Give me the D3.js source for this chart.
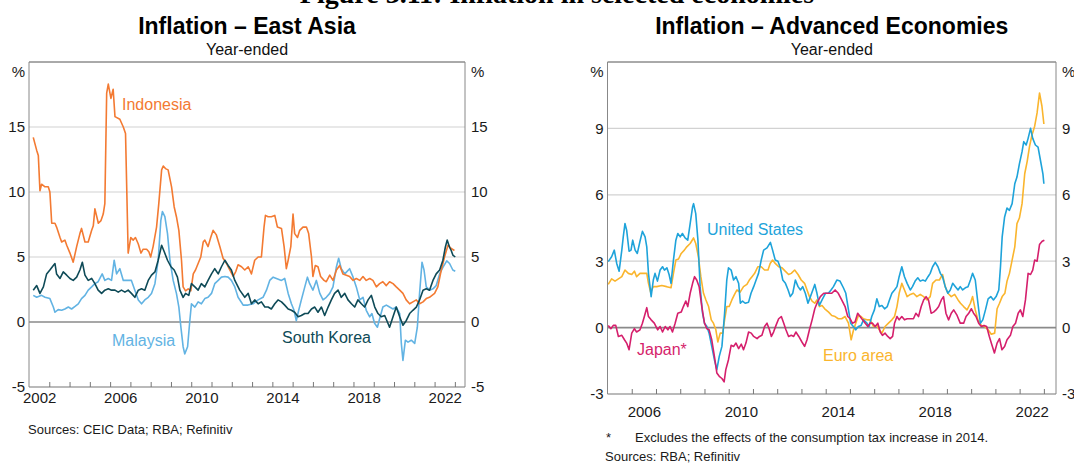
<!DOCTYPE html>
<html>
<head>
<meta charset="utf-8">
<script src="https://cdn.jsdelivr.net/npm/d3@7/dist/d3.min.js"></script>
<style>
  body { margin: 0; background: #fff; }
  svg { display: block; font-family: "Liberation Sans", Arial, sans-serif; }
</style>
</head>
<body>
<svg id="chart" width="1074" height="463"></svg>
<script>
// ---- data: [year, % year-ended] ----
const indonesia = [[2002.21,14.2],[2002.38,13.2],[2002.46,12.8],[2002.54,10.1],[2002.62,10.6],[2002.79,10.4],[2002.95,10.4],[2003.03,10.0],[2003.12,7.6],[2003.28,7.6],[2003.36,7.3],[2003.53,6.5],[2003.61,6.15],[2003.77,6.3],[2003.86,5.9],[2004.02,5.3],[2004.18,4.6],[2004.35,5.8],[2004.51,6.8],[2004.59,7.2],[2004.76,6.15],[2004.92,6.15],[2005.09,7.05],[2005.17,7.4],[2005.25,8.7],[2005.42,7.6],[2005.55,7.8],[2005.66,8.3],[2005.74,9.1],[2005.83,17.6],[2005.91,18.3],[2006.04,17.2],[2006.15,17.9],[2006.24,15.8],[2006.48,15.6],[2006.65,15.0],[2006.76,14.5],[2006.89,5.3],[2007.02,6.5],[2007.14,6.3],[2007.25,6.5],[2007.39,6.0],[2007.52,5.3],[2007.63,5.6],[2007.8,5.6],[2007.91,5.4],[2008.0,5.0],[2008.12,5.8],[2008.29,7.3],[2008.4,9.1],[2008.54,11.7],[2008.62,12.0],[2008.73,11.8],[2008.86,11.7],[2009.03,10.4],[2009.16,8.85],[2009.27,8.1],[2009.39,7.05],[2009.52,4.75],[2009.6,2.7],[2009.72,2.4],[2009.85,2.55],[2009.98,2.4],[2010.1,3.7],[2010.21,4.0],[2010.34,4.5],[2010.47,5.0],[2010.59,6.15],[2010.67,6.3],[2010.83,5.8],[2010.96,6.5],[2011.08,7.05],[2011.24,6.7],[2011.41,5.8],[2011.57,4.9],[2011.74,4.5],[2011.9,4.0],[2012.07,3.5],[2012.2,3.9],[2012.31,4.4],[2012.48,4.25],[2012.64,4.0],[2012.81,4.25],[2012.97,3.7],[2013.13,4.75],[2013.3,5.0],[2013.46,5.0],[2013.59,7.3],[2013.66,8.2],[2013.79,8.1],[2013.95,8.1],[2014.12,8.2],[2014.25,7.3],[2014.45,7.2],[2014.58,5.8],[2014.69,4.1],[2014.78,4.75],[2014.91,5.8],[2015.02,8.3],[2015.1,6.8],[2015.24,6.5],[2015.35,7.05],[2015.51,7.3],[2015.68,7.3],[2015.79,6.8],[2015.93,5.0],[2016.0,3.5],[2016.12,4.35],[2016.25,4.25],[2016.38,3.5],[2016.55,3.2],[2016.66,3.1],[2016.83,3.6],[2016.99,3.2],[2017.16,4.0],[2017.32,4.35],[2017.48,3.7],[2017.65,3.6],[2017.81,3.5],[2017.98,3.2],[2018.14,3.35],[2018.31,3.2],[2018.47,3.5],[2018.63,3.2],[2018.8,3.35],[2018.96,3.2],[2019.13,2.7],[2019.29,2.95],[2019.45,3.1],[2019.62,2.8],[2019.78,3.1],[2019.95,2.95],[2020.11,2.7],[2020.28,2.45],[2020.44,2.2],[2020.6,1.7],[2020.77,1.4],[2020.93,1.55],[2021.1,1.7],[2021.26,1.4],[2021.43,1.55],[2021.59,1.8],[2021.75,1.9],[2022.0,2.2],[2022.16,2.7],[2022.33,4.0],[2022.49,5.0],[2022.66,5.9],[2022.82,5.65],[2022.98,5.5]];

const malaysia = [[2002.21,2.05],[2002.38,1.9],[2002.62,2.05],[2002.79,1.9],[2003.03,1.8],[2003.2,1.15],[2003.28,0.75],[2003.44,0.95],[2003.61,0.9],[2003.77,1.0],[2003.94,1.15],[2004.1,1.0],[2004.27,1.2],[2004.43,1.4],[2004.59,1.8],[2004.76,2.05],[2004.92,2.45],[2005.09,2.7],[2005.25,2.95],[2005.41,3.1],[2005.61,3.7],[2005.74,3.2],[2005.91,3.35],[2006.07,3.2],[2006.2,4.75],[2006.32,3.7],[2006.48,4.1],[2006.65,3.2],[2006.81,3.2],[2007.05,3.2],[2007.22,2.45],[2007.39,1.7],[2007.55,1.4],[2007.71,1.7],[2007.88,1.9],[2008.04,2.2],[2008.21,2.95],[2008.37,4.75],[2008.5,7.8],[2008.58,8.5],[2008.7,8.1],[2008.83,6.8],[2008.95,4.75],[2009.11,3.2],[2009.27,2.2],[2009.39,1.15],[2009.49,-0.4],[2009.6,-1.9],[2009.68,-2.45],[2009.82,-1.9],[2009.93,0.1],[2010.01,1.4],[2010.18,1.15],[2010.34,1.55],[2010.5,1.4],[2010.67,1.8],[2010.83,1.9],[2011.0,2.2],[2011.16,2.95],[2011.33,3.2],[2011.49,3.45],[2011.66,3.5],[2011.82,3.45],[2011.98,3.2],[2012.15,2.7],[2012.31,1.9],[2012.48,1.5],[2012.56,1.3],[2012.8,1.3],[2013.05,1.4],[2013.3,1.7],[2013.54,1.9],[2013.71,2.45],[2013.87,3.2],[2014.04,3.45],[2014.2,3.35],[2014.45,3.2],[2014.61,3.35],[2014.78,2.2],[2014.94,1.4],[2015.07,0.9],[2015.18,0.1],[2015.3,0.9],[2015.43,1.7],[2015.6,2.7],[2015.73,3.45],[2015.84,2.95],[2016.0,2.45],[2016.17,3.2],[2016.34,2.2],[2016.5,1.7],[2016.66,1.9],[2016.83,2.2],[2016.99,2.7],[2017.16,4.25],[2017.27,4.9],[2017.4,4.1],[2017.57,3.7],[2017.81,4.1],[2017.98,3.45],[2018.14,2.7],[2018.31,1.7],[2018.47,1.9],[2018.63,0.9],[2018.8,0.4],[2018.91,0.65],[2019.04,-0.1],[2019.18,-0.4],[2019.29,0.25],[2019.45,1.15],[2019.62,1.3],[2019.78,1.15],[2019.95,1.0],[2020.11,1.15],[2020.28,0.65],[2020.36,-1.65],[2020.44,-2.95],[2020.56,-1.4],[2020.69,-1.55],[2020.85,-1.4],[2021.02,-1.65],[2021.15,-0.4],[2021.26,2.2],[2021.38,4.6],[2021.48,4.0],[2021.59,2.7],[2021.75,2.45],[2021.92,2.55],[2022.08,2.8],[2022.25,3.7],[2022.41,4.2],[2022.6,4.7],[2022.74,4.5],[2022.9,4.0],[2023.02,3.9]];

const southKorea = [[2002.21,2.45],[2002.38,2.8],[2002.54,2.2],[2002.71,2.7],[2002.87,3.7],[2003.03,4.0],[2003.2,4.35],[2003.28,4.5],[2003.36,3.7],[2003.53,3.35],[2003.69,3.85],[2003.86,3.6],[2004.02,3.35],[2004.18,3.2],[2004.35,3.45],[2004.51,4.0],[2004.63,4.6],[2004.76,3.6],[2004.92,3.2],[2005.09,3.35],[2005.25,2.95],[2005.41,2.45],[2005.58,2.2],[2005.74,2.45],[2005.91,2.55],[2006.07,2.45],[2006.24,2.45],[2006.4,2.3],[2006.56,2.45],[2006.73,2.3],[2006.89,2.45],[2007.05,2.2],[2007.22,1.9],[2007.39,2.45],[2007.55,2.55],[2007.71,2.45],[2007.88,3.2],[2008.04,3.6],[2008.21,3.85],[2008.37,4.75],[2008.54,5.9],[2008.67,5.4],[2008.83,4.75],[2009.0,4.25],[2009.16,4.0],[2009.32,3.45],[2009.44,2.45],[2009.6,1.9],[2009.72,2.2],[2009.88,2.05],[2010.01,2.95],[2010.18,2.7],[2010.34,2.45],[2010.5,2.95],[2010.67,2.7],[2010.83,3.2],[2011.0,3.7],[2011.16,4.1],[2011.33,3.7],[2011.49,4.25],[2011.66,4.75],[2011.82,4.35],[2011.98,4.0],[2012.15,3.2],[2012.39,2.45],[2012.64,1.9],[2012.81,2.2],[2012.97,1.4],[2013.13,1.7],[2013.3,1.4],[2013.46,1.55],[2013.63,1.15],[2013.79,1.15],[2013.95,1.0],[2014.12,1.4],[2014.28,1.7],[2014.45,1.55],[2014.61,1.3],[2014.78,1.0],[2014.94,0.9],[2015.1,0.75],[2015.27,0.4],[2015.43,0.5],[2015.6,0.65],[2015.76,0.65],[2015.93,1.0],[2016.09,1.15],[2016.25,0.75],[2016.42,1.15],[2016.58,0.5],[2016.75,1.15],[2016.91,1.7],[2017.07,2.2],[2017.24,2.45],[2017.4,1.9],[2017.57,2.2],[2017.73,1.7],[2017.9,1.4],[2018.06,1.15],[2018.22,1.7],[2018.39,1.4],[2018.55,1.15],[2018.72,1.7],[2018.88,2.05],[2019.05,1.15],[2019.21,0.65],[2019.37,0.4],[2019.54,0.5],[2019.7,-0.1],[2019.78,-0.4],[2019.95,0.4],[2020.11,1.15],[2020.28,0.4],[2020.44,-0.25],[2020.6,0.1],[2020.77,0.65],[2020.93,0.9],[2021.1,1.15],[2021.26,1.7],[2021.43,2.45],[2021.59,2.55],[2021.75,2.45],[2021.92,3.2],[2022.08,3.7],[2022.25,4.0],[2022.41,4.75],[2022.53,5.75],[2022.62,6.3],[2022.74,5.75],[2022.82,5.5],[2022.9,5.15],[2023.02,5.0]];

const unitedStates = [[2005.03,2.98],[2005.17,3.2],[2005.28,3.5],[2005.38,2.9],[2005.48,2.55],[2005.59,3.5],[2005.65,4.1],[2005.72,4.7],[2005.79,4.4],[2005.89,3.45],[2005.97,3.5],[2006.04,3.95],[2006.14,3.5],[2006.23,3.35],[2006.34,3.9],[2006.44,4.35],[2006.55,4.1],[2006.62,3.65],[2006.69,2.45],[2006.8,1.4],[2006.89,2.15],[2006.96,2.45],[2007.06,2.1],[2007.17,2.6],[2007.27,2.75],[2007.35,2.6],[2007.45,2.7],[2007.54,2.4],[2007.62,2.0],[2007.72,3.05],[2007.82,3.95],[2007.9,4.25],[2008.0,4.1],[2008.09,4.25],[2008.2,4.05],[2008.31,3.95],[2008.41,4.7],[2008.51,5.45],[2008.55,5.6],[2008.64,5.15],[2008.73,3.95],[2008.82,1.85],[2008.92,0.65],[2009.0,0.2],[2009.1,0.05],[2009.19,-0.25],[2009.3,-0.85],[2009.41,-1.45],[2009.51,-1.9],[2009.61,-1.3],[2009.72,-0.85],[2009.83,0.65],[2009.92,2.15],[2009.99,2.7],[2010.1,2.6],[2010.2,2.15],[2010.3,2.3],[2010.41,2.0],[2010.48,1.1],[2010.57,1.2],[2010.68,1.1],[2010.82,1.15],[2010.92,1.55],[2011.03,1.85],[2011.13,2.15],[2011.23,2.45],[2011.34,3.05],[2011.44,3.5],[2011.58,3.6],[2011.72,3.85],[2011.81,3.5],[2011.92,3.05],[2012.03,3.0],[2012.13,2.7],[2012.23,2.15],[2012.34,2.0],[2012.45,1.7],[2012.54,1.4],[2012.64,1.55],[2012.75,2.15],[2012.86,1.85],[2012.96,1.7],[2013.05,1.85],[2013.16,1.55],[2013.27,1.1],[2013.37,1.4],[2013.47,1.7],[2013.55,1.95],[2013.64,1.55],[2013.74,1.0],[2013.85,1.25],[2013.99,1.55],[2014.11,1.55],[2014.22,1.7],[2014.32,1.85],[2014.46,2.15],[2014.59,2.1],[2014.73,1.8],[2014.83,1.55],[2014.94,0.8],[2015.03,0.2],[2015.14,0.05],[2015.24,-0.1],[2015.35,0.05],[2015.46,0.1],[2015.56,0.35],[2015.7,0.2],[2015.79,0.05],[2015.9,0.5],[2016.01,0.8],[2016.11,1.3],[2016.21,0.95],[2016.32,1.0],[2016.43,0.85],[2016.54,0.95],[2016.63,1.25],[2016.73,1.55],[2016.84,1.7],[2016.94,1.85],[2017.03,2.3],[2017.14,2.75],[2017.25,2.3],[2017.36,2.0],[2017.49,1.7],[2017.58,1.85],[2017.69,2.1],[2017.8,2.25],[2017.9,2.1],[2018.01,2.15],[2018.11,2.1],[2018.22,2.3],[2018.31,2.45],[2018.41,2.75],[2018.52,2.95],[2018.63,2.75],[2018.73,2.45],[2018.82,2.3],[2018.93,1.85],[2019.04,1.55],[2019.14,1.7],[2019.24,2.0],[2019.35,1.85],[2019.46,1.7],[2019.55,1.85],[2019.65,1.7],[2019.76,1.8],[2019.87,1.85],[2019.97,2.15],[2020.06,2.45],[2020.17,2.15],[2020.28,1.1],[2020.38,0.2],[2020.48,0.35],[2020.59,0.8],[2020.7,1.3],[2020.81,1.4],[2020.92,1.25],[2021.03,1.4],[2021.14,1.7],[2021.21,2.75],[2021.28,4.1],[2021.38,5.0],[2021.48,5.4],[2021.58,5.3],[2021.69,5.6],[2021.8,6.5],[2021.89,6.8],[2021.99,7.4],[2022.1,7.95],[2022.17,8.4],[2022.27,8.25],[2022.35,8.55],[2022.45,9.0],[2022.54,8.55],[2022.65,8.25],[2022.76,8.15],[2022.86,7.55],[2022.96,6.95],[2023.0,6.5]];

const euroArea = [[2005.03,1.95],[2005.17,2.2],[2005.31,2.1],[2005.45,2.2],[2005.59,2.3],[2005.72,2.6],[2005.86,2.45],[2006.0,2.4],[2006.11,2.55],[2006.2,2.3],[2006.34,2.45],[2006.48,2.45],[2006.62,2.45],[2006.69,2.0],[2006.78,1.6],[2006.89,1.85],[2007.03,1.85],[2007.24,1.9],[2007.44,1.85],[2007.62,1.8],[2007.72,2.45],[2007.82,3.05],[2007.93,3.1],[2008.04,3.35],[2008.17,3.5],[2008.27,3.65],[2008.41,3.8],[2008.55,4.05],[2008.64,3.8],[2008.75,3.2],[2008.85,2.3],[2008.96,1.55],[2009.06,1.25],[2009.17,0.95],[2009.28,0.35],[2009.37,0.2],[2009.47,-0.1],[2009.55,-0.65],[2009.65,-0.25],[2009.75,-0.25],[2009.83,0.35],[2009.92,0.95],[2010.02,0.95],[2010.13,1.25],[2010.24,1.5],[2010.34,1.7],[2010.47,1.6],[2010.61,1.85],[2010.75,1.95],[2010.85,2.15],[2010.96,2.3],[2011.07,2.45],[2011.2,2.75],[2011.34,2.75],[2011.48,2.6],[2011.62,2.6],[2011.71,2.9],[2011.81,3.05],[2011.92,2.9],[2012.06,2.75],[2012.2,2.7],[2012.33,2.55],[2012.47,2.4],[2012.58,2.45],[2012.72,2.6],[2012.86,2.4],[2012.99,2.15],[2013.13,2.0],[2013.23,1.7],[2013.33,1.4],[2013.44,1.2],[2013.55,1.1],[2013.64,1.25],[2013.74,0.95],[2013.85,1.0],[2013.96,0.85],[2014.12,0.7],[2014.25,0.55],[2014.39,0.5],[2014.52,0.4],[2014.66,0.4],[2014.8,0.5],[2014.94,0.2],[2015.05,-0.55],[2015.15,-0.1],[2015.24,0.2],[2015.35,0.55],[2015.46,0.5],[2015.56,0.4],[2015.7,0.35],[2015.83,0.35],[2015.97,0.05],[2016.11,0.1],[2016.21,-0.1],[2016.32,-0.25],[2016.45,0.05],[2016.59,0.2],[2016.73,0.35],[2016.84,0.5],[2016.94,0.95],[2017.03,1.55],[2017.14,2.0],[2017.25,1.7],[2017.36,1.4],[2017.49,1.5],[2017.62,1.55],[2017.76,1.4],[2017.9,1.5],[2018.04,1.4],[2018.18,1.25],[2018.31,1.4],[2018.41,2.0],[2018.55,2.15],[2018.69,2.15],[2018.82,2.4],[2018.93,1.85],[2019.04,1.55],[2019.18,1.4],[2019.32,1.5],[2019.46,1.25],[2019.56,1.1],[2019.69,0.95],[2019.83,0.8],[2019.97,1.1],[2020.06,1.4],[2020.17,0.8],[2020.28,0.35],[2020.42,0.1],[2020.56,0.05],[2020.7,-0.1],[2020.83,-0.3],[2020.97,-0.25],[2021.07,0.85],[2021.17,1.1],[2021.28,1.4],[2021.39,1.55],[2021.48,2.1],[2021.58,2.45],[2021.69,3.05],[2021.8,3.65],[2021.89,4.7],[2021.99,4.95],[2022.1,5.6],[2022.21,6.95],[2022.31,7.5],[2022.41,8.2],[2022.51,8.7],[2022.62,9.1],[2022.72,9.7],[2022.82,10.6],[2022.92,10.0],[2023.0,9.2]];

const japan = [[2005.03,0.1],[2005.14,-0.05],[2005.24,0.1],[2005.34,0.1],[2005.45,-0.4],[2005.59,-0.35],[2005.7,-0.55],[2005.79,-0.7],[2005.89,-1.0],[2006.0,-0.25],[2006.11,-0.05],[2006.2,-0.2],[2006.34,-0.1],[2006.44,0.2],[2006.52,0.5],[2006.62,0.9],[2006.69,0.5],[2006.8,0.35],[2006.93,0.2],[2007.07,-0.1],[2007.17,0.05],[2007.27,-0.2],[2007.38,0.05],[2007.49,-0.1],[2007.58,0.05],[2007.68,-0.2],[2007.79,0.2],[2007.9,0.65],[2008.04,0.7],[2008.13,0.95],[2008.23,1.2],[2008.31,0.95],[2008.41,1.55],[2008.51,2.0],[2008.59,2.3],[2008.68,2.15],[2008.78,1.85],[2008.89,0.95],[2009.0,0.2],[2009.1,-0.05],[2009.19,-0.1],[2009.3,-0.55],[2009.41,-1.3],[2009.51,-2.05],[2009.61,-2.2],[2009.72,-2.3],[2009.81,-2.45],[2009.88,-1.9],[2009.99,-1.45],[2010.1,-0.8],[2010.2,-0.85],[2010.3,-0.7],[2010.41,-0.95],[2010.52,-0.75],[2010.61,-1.0],[2010.71,-0.7],[2010.82,-0.2],[2010.93,-0.25],[2011.03,-0.4],[2011.17,-0.5],[2011.27,-0.4],[2011.37,-0.35],[2011.48,0.05],[2011.58,0.2],[2011.68,-0.1],[2011.76,-0.4],[2011.85,-0.2],[2011.95,0.1],[2012.06,0.4],[2012.17,0.5],[2012.27,0.2],[2012.36,-0.1],[2012.47,-0.4],[2012.58,-0.35],[2012.68,-0.4],[2012.77,-0.2],[2012.89,-0.4],[2013.02,-0.65],[2013.13,-0.85],[2013.23,-0.55],[2013.33,-0.1],[2013.44,0.35],[2013.55,0.85],[2013.64,1.1],[2013.78,1.4],[2013.92,1.55],[2014.11,1.55],[2014.25,1.55],[2014.39,1.7],[2014.52,1.55],[2014.66,1.25],[2014.8,0.95],[2014.91,0.5],[2015.01,0.4],[2015.1,0.2],[2015.21,0.25],[2015.32,0.65],[2015.42,0.5],[2015.52,0.35],[2015.63,0.2],[2015.74,0.05],[2015.83,0.2],[2015.93,0.2],[2016.04,0.05],[2016.15,0.2],[2016.25,-0.2],[2016.34,-0.35],[2016.45,-0.25],[2016.56,-0.4],[2016.66,-0.5],[2016.76,-0.4],[2016.84,0.2],[2016.94,0.5],[2017.03,0.35],[2017.14,0.5],[2017.25,0.35],[2017.36,0.4],[2017.49,0.4],[2017.62,0.4],[2017.72,0.65],[2017.83,0.5],[2017.94,0.95],[2018.04,1.25],[2018.14,1.4],[2018.24,1.25],[2018.35,0.65],[2018.45,0.7],[2018.55,0.8],[2018.66,0.95],[2018.77,1.25],[2018.86,1.4],[2018.96,0.65],[2019.07,0.35],[2019.18,0.65],[2019.28,0.8],[2019.42,0.55],[2019.55,0.2],[2019.69,0.2],[2019.79,0.5],[2019.9,0.65],[2020.01,0.85],[2020.1,0.65],[2020.2,0.5],[2020.31,0.2],[2020.42,0.05],[2020.53,0.1],[2020.64,0.05],[2020.75,-0.4],[2020.86,-0.8],[2020.96,-1.15],[2021.07,-0.7],[2021.17,-0.5],[2021.27,-1.0],[2021.38,-0.85],[2021.48,-0.55],[2021.62,-0.35],[2021.72,0.05],[2021.83,0.2],[2021.94,0.65],[2022.03,0.8],[2022.13,0.5],[2022.24,1.25],[2022.35,2.45],[2022.45,2.4],[2022.54,2.6],[2022.62,3.05],[2022.72,3.0],[2022.82,3.75],[2022.93,3.9],[2023.02,3.95]];

// axis ticks / labels
const asiaYTicks = [-5, 0, 5, 10, 15];
const advYTicks = [-3, 0, 3, 6, 9];
const asiaYearLabels = [2002, 2006, 2010, 2014, 2018, 2022];
const advYearLabels = [2006, 2010, 2014, 2018, 2022];

const svg = d3.select("#chart");

// figure heading, mostly cut off at the top of the crop
svg.append("text")
    .attr("x", 557).attr("y", 3)
    .attr("text-anchor", "middle")
    .attr("font-family", "Liberation Serif, Times New Roman, serif")
    .attr("font-weight", "bold")
    .attr("font-size", "28px")
    .attr("fill", "#000")
    .text("Figure 3.11: Inflation in selected economies");

function drawPanel(p) {
    let x = d3.scaleLinear().domain(p.xDomain).range([p.left, p.right]);
    let y = d3.scaleLinear().domain(p.yDomain).range([p.bottom, p.top]);
    let g = svg.append("g");
    let cx = (p.left + p.right) / 2;
    let plain = function(d){ return String(d); }; // keep hyphen-minus like the original

    //title + subtitle
    g.append("text")
        .attr("x", cx).attr("y", 34)
        .attr("text-anchor", "middle")
        .attr("font-size", "23px")
        .attr("font-weight", "bold")
        .attr("fill", "#000")
        .text(p.title);
    g.append("text")
        .attr("x", cx).attr("y", 55)
        .attr("text-anchor", "middle")
        .attr("font-size", "16px")
        .attr("fill", "#111")
        .text("Year-ended");

    //horizontal grid lines
    g.selectAll(".grid")
        .data(p.yTicks.filter(function(d){ return d > p.yDomain[0]; }))
        .enter()
        .append("line")
            .attr("x1", p.left).attr("x2", p.right)
            .attr("y1", function(d){ return y(d); })
            .attr("y2", function(d){ return y(d); })
            .attr("stroke", function(d){ return d === 0 ? "#8a8a8a" : "#d2d2d2"; })
            .attr("stroke-width", function(d){ return d === 0 ? 1.6 : 1.2; });

    //year ticks (inside the plot, pointing up)
    let yearTicks = d3.range(Math.ceil(p.xDomain[0]) + 1, Math.floor(p.xDomain[1]) + 1);
    let tickAxis = g.append("g")
        .attr("transform", "translate(0," + p.bottom + ")")
        .call(d3.axisBottom(x).tickValues(yearTicks).tickSize(-5).tickFormat(""));
    tickAxis.select(".domain").remove();
    tickAxis.selectAll("line").attr("stroke", "#777");

    //year labels centred in their year
    let labAxis = g.append("g")
        .attr("transform", "translate(0," + p.bottom + ")")
        .call(d3.axisBottom(x)
            .tickValues(p.yearLabels.map(function(d){ return d + 0.5; }))
            .tickSize(0).tickPadding(p.xLabelPad)
            .tickFormat(function(d){ return Math.floor(d); }));
    labAxis.select(".domain").remove();
    labAxis.selectAll("text")
        .attr("font-family", "Liberation Sans, Arial, sans-serif")
        .attr("font-size", "15px").attr("fill", "#1a1a1a");

    //y labels on both sides
    let leftAxis = g.append("g")
        .attr("transform", "translate(" + p.left + ",0)")
        .call(d3.axisLeft(y).tickValues(p.yTicks).tickSize(0).tickPadding(4).tickFormat(plain));
    let rightAxis = g.append("g")
        .attr("transform", "translate(" + p.right + ",0)")
        .call(d3.axisRight(y).tickValues(p.yTicks).tickSize(0).tickPadding(6).tickFormat(plain));
    [leftAxis, rightAxis].forEach(function(a) {
        a.select(".domain").remove();
        a.selectAll("text")
            .attr("font-family", "Liberation Sans, Arial, sans-serif")
            .attr("font-size", "15px").attr("fill", "#1a1a1a");
    });
    g.append("text")
        .attr("x", p.left - 4).attr("y", p.top + 15)
        .attr("text-anchor", "end")
        .attr("font-size", "15px").attr("fill", "#1a1a1a")
        .text("%");
    g.append("text")
        .attr("x", p.right + 6).attr("y", p.top + 15)
        .attr("font-size", "15px").attr("fill", "#1a1a1a")
        .text("%");

    //series lines
    let line = d3.line()
        .x(function(d){ return x(d[0]); })
        .y(function(d){ return y(d[1]); });
    p.series.forEach(function(s) {
        g.append("path")
            .datum(s.data)
            .attr("d", line)
            .attr("fill", "none")
            .attr("stroke", s.color)
            .attr("stroke-width", 1.6)
            .attr("stroke-linejoin", "round");
        g.append("text")
            .attr("x", s.lx).attr("y", s.ly)
            .attr("font-size", "16px")
            .attr("fill", s.color)
            .text(s.name);
    });

    //frame
    g.append("line")
        .attr("x1", p.left).attr("x2", p.right).attr("y1", p.top).attr("y2", p.top)
        .attr("stroke", "#555").attr("stroke-width", 1);
    g.append("line")
        .attr("x1", p.left).attr("x2", p.right).attr("y1", p.bottom).attr("y2", p.bottom)
        .attr("stroke", "#777").attr("stroke-width", 1.2);
    [p.left, p.right].forEach(function(xx) {
        g.append("line")
            .attr("x1", xx).attr("x2", xx).attr("y1", p.top).attr("y2", p.bottom)
            .attr("stroke", "#888").attr("stroke-width", 1);
    });
}

drawPanel({
    title: "Inflation \u2013 East Asia",
    left: 29, right: 465, top: 62, bottom: 387,
    xDomain: [2002, 2023.5], yDomain: [-5, 20],
    yTicks: asiaYTicks, yearLabels: asiaYearLabels, xLabelPad: 5,
    series: [
        { name: "Malaysia", data: malaysia, color: "#62b3e3", lx: 112, ly: 346 },
        { name: "Indonesia", data: indonesia, color: "#f37a32", lx: 122, ly: 110 },
        { name: "South Korea", data: southKorea, color: "#0e4a57", lx: 282, ly: 343 }
    ]
});

drawPanel({
    title: "Inflation \u2013 Advanced Economies",
    left: 607.5, right: 1056, top: 62, bottom: 394,
    xDomain: [2005, 2023.5], yDomain: [-3, 12],
    yTicks: advYTicks, yearLabels: advYearLabels, xLabelPad: 12,
    series: [
        { name: "Euro area", data: euroArea, color: "#fab52d", lx: 823, ly: 361 },
        { name: "United States", data: unitedStates, color: "#1ea3da", lx: 707, ly: 235 },
        { name: "Japan*", data: japan, color: "#d51f6c", lx: 637, ly: 355 }
    ]
});

//notes and sources
svg.append("text")
    .attr("x", 28).attr("y", 434)
    .attr("font-size", "13px").attr("fill", "#1a1a1a")
    .text("Sources: CEIC Data; RBA; Refinitiv");
svg.append("text")
    .attr("x", 606).attr("y", 442)
    .attr("font-size", "13px").attr("fill", "#1a1a1a")
    .text("*");
svg.append("text")
    .attr("x", 635).attr("y", 442)
    .attr("font-size", "13px").attr("fill", "#1a1a1a")
    .text("Excludes the effects of the consumption tax increase in 2014.");
svg.append("text")
    .attr("x", 605).attr("y", 461)
    .attr("font-size", "13px").attr("fill", "#1a1a1a")
    .text("Sources: RBA; Refinitiv");
</script>
</body>
</html>
